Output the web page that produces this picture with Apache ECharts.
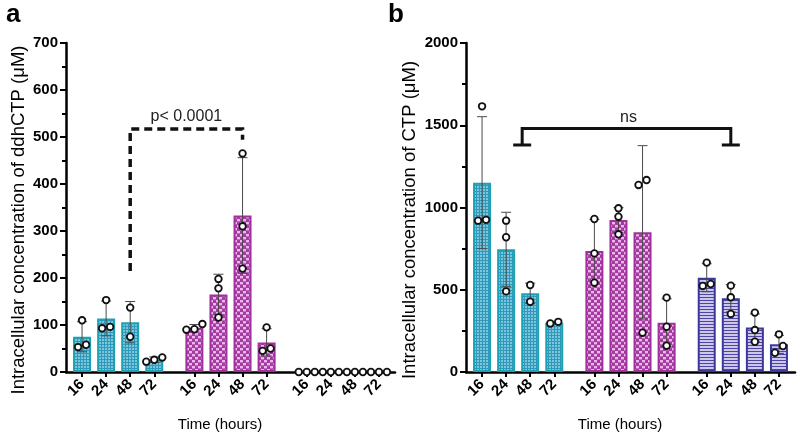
<!DOCTYPE html>
<html><head><meta charset="utf-8">
<script src="https://cdn.jsdelivr.net/npm/echarts@6/dist/echarts.min.js"></script>
<style>html,body{margin:0;padding:0;background:#fff}#c{width:800px;height:439px}</style>
</head><body><div id="c"></div>
<script>
// ---------------- data ----------------
const timeLabels = ['16', '24', '48', '72'];
// Panel a: intracellular ddhCTP (µM), three groups x four time points
const aMeans = [[75, 114, 106, 26], [94, 165, 333, 63], [0, 0, 0, 0]];
const aSD    = [[32, 37, 44, 6], [7, 43, 123, 29], [0, 0, 0, 0]];
const aPoints = [
  [[110, 53, 58], [153, 93, 96], [137, 75], [31, 22, 26]],
  [[102, 90, 91], [198, 178, 116], [465, 310, 220], [95, 45, 50]],
  [[0, 0, 0], [0, 0, 0], [0, 0, 0], [0, 0, 0]]
];
// Panel b: intracellular CTP (µM)
const bMeans = [[1151, 746, 478, 300], [735, 924, 849, 300], [573, 448, 270, 168]];
const bSD    = [[401, 225, 62, 8], [193, 75, 527, 145], [85, 83, 83, 55]];
const bPoints = [
  [[1615, 920, 925], [920, 819, 490], [529, 427], [295, 305]],
  [[930, 721, 543], [995, 944, 837], [1167, 1137, 239], [452, 275, 160]],
  [[665, 523, 535], [525, 454, 353], [361, 255, 184], [229, 158, 117]]
];
const aTicks = {max: 700, interval: 100};
const bTicks = {max: 2000, interval: 500};
const titleA = 'Intracellular concentration of ddhCTP (\u03bcM)';
const titleB = 'Intracellular concentration of CTP (\u03bcM)';
const xTitle = 'Time (hours)';
const sigA = {text: 'p< 0.0001', level: 517, leftEnd: 215, rightEnd: 494};
const sigB = {text: 'ns', level: 1480, feet: 1380};

// ---------------- layout helpers ----------------
const FONT = '"Liberation Sans", Arial, sans-serif';
const NSLOT = 42;
function slot(g, i) { return 2 + g * 14 + i * 3; }
const cats = new Array(NSLOT).fill('');
for (let g = 0; g < 3; g++) for (let i = 0; i < 4; i++) cats[slot(g, i)] = timeLabels[i];

function makePattern(kind) {
  const cv = document.createElement('canvas');
  const ctx = cv.getContext('2d');
  if (kind === 0) {
    cv.width = 3; cv.height = 3;
    ctx.fillStyle = '#2f98bb'; ctx.fillRect(0, 0, 3, 3);
    ctx.fillStyle = '#7cc6dc'; ctx.fillRect(0, 0, 2, 2);
  } else if (kind === 1) {
    cv.width = 6; cv.height = 6;
    ctx.fillStyle = '#a63aa3'; ctx.fillRect(0, 0, 6, 6);
    ctx.fillStyle = '#eab8e8'; ctx.fillRect(0, 0, 3, 3); ctx.fillRect(3, 3, 3, 3);
    ctx.fillStyle = '#c46cc2'; ctx.fillRect(0, 2, 3, 1); ctx.fillRect(3, 5, 3, 1);
  } else {
    cv.width = 2; cv.height = 3;
    ctx.fillStyle = '#cfc6ea'; ctx.fillRect(0, 0, 2, 3);
    ctx.fillStyle = '#4a47a8'; ctx.fillRect(0, 0, 2, 1);
  }
  return {image: cv, repeat: 'repeat'};
}
const fills = [makePattern(0), makePattern(1), makePattern(2)];
const borders = ['#1ba3b4', '#a1309e', '#3a3a9e'];

function barData(means) {
  const d = new Array(NSLOT).fill('-');
  means.forEach((row, g) => row.forEach((v, i) => {
    d[slot(g, i)] = {value: v, itemStyle: {color: fills[g], borderColor: borders[g], borderWidth: 2}};
  }));
  return d;
}
function errData(means, sds) {
  const d = [];
  means.forEach((row, g) => row.forEach((v, i) => d.push([slot(g, i), v, sds[g][i]])));
  return d;
}
function jitter(vals, thr) {
  const idx = vals.map((v, k) => k).sort((p, q) => vals[p] - vals[q]);
  const off = new Array(vals.length).fill(0);
  let start = 0;
  for (let k = 1; k <= idx.length; k++) {
    if (k === idx.length || vals[idx[k]] - vals[idx[k - 1]] > thr) {
      const n = k - start;
      if (n > 1) for (let m = start; m < k; m++) off[idx[m]] = (m - start - (n - 1) / 2) * 8;
      start = k;
    }
  }
  return off;
}
function ptData(points, max) {
  const d = [];
  points.forEach((row, g) => row.forEach((vals, i) => {
    const off = jitter(vals, max * 0.025);
    vals.forEach((v, k) => d.push([slot(g, i), v, off[k]]));
  }));
  return d;
}
function errRender(params, api) {
  const x = api.value(0), m = api.value(1), s = api.value(2);
  if (!s) return {type: 'group', children: []};
  const t = api.coord([x, m + s]), b = api.coord([x, Math.max(0, m - s)]);
  const st = {stroke: '#4a4a4a', lineWidth: 1};
  return {type: 'group', children: [
    {type: 'line', shape: {x1: t[0], y1: t[1], x2: b[0], y2: b[1]}, style: st},
    {type: 'line', shape: {x1: t[0] - 5, y1: t[1], x2: t[0] + 5, y2: t[1]}, style: st},
    {type: 'line', shape: {x1: b[0] - 5, y1: b[1], x2: b[0] + 5, y2: b[1]}, style: st}
  ]};
}
function ptRender(params, api) {
  const c = api.coord([api.value(0), api.value(1)]);
  return {type: 'circle', shape: {cx: c[0] + api.value(2), cy: c[1], r: 3.3},
    style: {fill: '#fff', stroke: '#111', lineWidth: 1.8}};
}
function sigARender(params, api) {
  const xl = slot(0, 2), xr = slot(1, 2);
  const L = api.coord([xl, sigA.level]), R = api.coord([xr, sigA.level]);
  const Lb = api.coord([xl, sigA.leftEnd]), Rb = api.coord([xr, sigA.rightEnd]);
  const st = {stroke: '#111', lineWidth: 3.5, lineDash: [8, 5]};
  return {type: 'group', children: [
    {type: 'polyline', shape: {points: [[Lb[0], Lb[1]], [L[0], L[1]], [R[0], R[1]], [Rb[0], Rb[1]]]}, style: Object.assign({fill: null}, st)},
    {type: 'text', x: (L[0] + R[0]) / 2, y: L[1] - 4, style: {text: sigA.text, font: '16px ' + FONT, fill: '#222', align: 'center', verticalAlign: 'bottom'}}
  ]};
}
function sigBRender(params, api) {
  const xl = slot(0, 2) - 0.6, xr = slot(2, 1) + 0.4;
  const L = api.coord([xl, sigB.level]), R = api.coord([xr, sigB.level]);
  const Lb = api.coord([xl, sigB.feet]), Rb = api.coord([xr, sigB.feet]);
  const st = {stroke: '#111', lineWidth: 3};
  return {type: 'group', children: [
    {type: 'polyline', shape: {points: [[Lb[0], Lb[1]], [L[0], L[1]], [R[0], R[1]], [Rb[0], Rb[1]]]}, style: Object.assign({fill: null}, st)},
    {type: 'line', shape: {x1: Lb[0] - 9, y1: Lb[1], x2: Lb[0] + 9, y2: Lb[1]}, style: st},
    {type: 'line', shape: {x1: Rb[0] - 9, y1: Rb[1], x2: Rb[0] + 9, y2: Rb[1]}, style: st},
    {type: 'text', x: (L[0] + R[0]) / 2 + 2, y: L[1] - 3, style: {text: sigB.text, font: '16px ' + FONT, fill: '#222', align: 'center', verticalAlign: 'bottom'}}
  ]};
}

function xAxis(gi) {
  return {
    type: 'category', gridIndex: gi, data: cats, boundaryGap: false,
    axisLine: {lineStyle: {color: '#000', width: 2.5}},
    axisTick: {interval: (i, v) => v !== '', length: 5, lineStyle: {color: '#000', width: 2}},
    axisLabel: {interval: 0, rotate: 45, color: '#000', fontWeight: 'bold', fontSize: 15, fontFamily: FONT, margin: 10},
    splitLine: {show: false}
  };
}
function yAxis(gi, t) {
  return {
    type: 'value', gridIndex: gi, min: 0, max: t.max, interval: t.interval,
    axisLine: {show: true, lineStyle: {color: '#000', width: 2.5}},
    axisTick: {show: true, length: 6, lineStyle: {color: '#000', width: 2}},
    minorTick: {show: true, splitNumber: 2, length: 4, lineStyle: {color: '#000', width: 2}},
    splitLine: {show: false}, minorSplitLine: {show: false},
    axisLabel: {color: '#000', fontWeight: 'bold', fontSize: 15, fontFamily: FONT, margin: 8, formatter: v => String(v)}
  };
}

const chart = echarts.init(document.getElementById('c'), null, {renderer: 'canvas'});
chart.setOption({
  animation: false,
  backgroundColor: '#fff',
  grid: [
    {left: 66, top: 43, width: 329, height: 329},
    {left: 466, top: 43, width: 329, height: 329}
  ],
  xAxis: [xAxis(0), xAxis(1)],
  yAxis: [yAxis(0, aTicks), yAxis(1, bTicks)],
  series: [
    {type: 'bar', xAxisIndex: 0, yAxisIndex: 0, barWidth: 18, data: barData(aMeans), z: 2},
    {type: 'custom', xAxisIndex: 0, yAxisIndex: 0, renderItem: errRender, data: errData(aMeans, aSD), z: 3, encode: {x: 0, y: 1}},
    {type: 'custom', xAxisIndex: 0, yAxisIndex: 0, renderItem: ptRender, data: ptData(aPoints, aTicks.max), z: 4, encode: {x: 0, y: 1}, clip: false},
    {type: 'custom', xAxisIndex: 0, yAxisIndex: 0, renderItem: sigARender, data: [[0, 0]], z: 5, clip: false},
    {type: 'bar', xAxisIndex: 1, yAxisIndex: 1, barWidth: 18, data: barData(bMeans), z: 2},
    {type: 'custom', xAxisIndex: 1, yAxisIndex: 1, renderItem: errRender, data: errData(bMeans, bSD), z: 3, encode: {x: 0, y: 1}},
    {type: 'custom', xAxisIndex: 1, yAxisIndex: 1, renderItem: ptRender, data: ptData(bPoints, bTicks.max), z: 4, encode: {x: 0, y: 1}, clip: false},
    {type: 'custom', xAxisIndex: 1, yAxisIndex: 1, renderItem: sigBRender, data: [[0, 0]], z: 5, clip: false}
  ],
  graphic: [
    {type: 'text', left: 6, top: 2, style: {text: 'a', font: 'bold 26px ' + FONT, fill: '#000'}},
    {type: 'text', left: 388, top: 2, style: {text: 'b', font: 'bold 26px ' + FONT, fill: '#000'}},
    {type: 'text', x: 19, y: 220, rotation: Math.PI / 2, style: {text: titleA, font: '18.5px ' + FONT, fill: '#000', align: 'center', verticalAlign: 'middle'}},
    {type: 'text', x: 410, y: 220, rotation: Math.PI / 2, style: {text: titleB, font: '18.5px ' + FONT, fill: '#000', align: 'center', verticalAlign: 'middle'}},
    {type: 'text', x: 220, y: 425, style: {text: xTitle, font: '15px ' + FONT, fill: '#000', align: 'center', verticalAlign: 'middle'}},
    {type: 'text', x: 620, y: 425, style: {text: xTitle, font: '15px ' + FONT, fill: '#000', align: 'center', verticalAlign: 'middle'}}
  ]
});
</script></body></html>
